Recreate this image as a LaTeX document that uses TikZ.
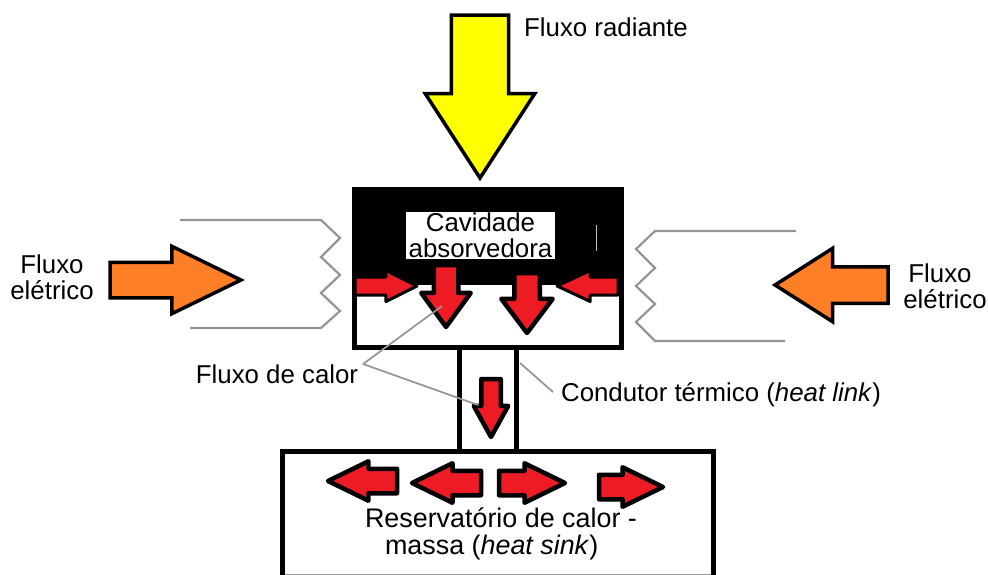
\documentclass[tikz,border=0pt]{standalone}
\usepackage{fontspec}
\setmainfont{Liberation Sans}
\definecolor{rayyellow}{RGB}{255, 255, 0}
\definecolor{elecorange}{RGB}{255, 127, 39}
\definecolor{heatred}{RGB}{237, 28, 36}
\definecolor{leadgray}{RGB}{150, 150, 150}
\usetikzlibrary{shapes.arrows, positioning}

\tikzset{
  bigarrow/.style={single arrow, draw=black, line width=0.07cm, inner xsep=0pt, outer sep=0pt, anchor=tail, single arrow head indent=0pt},
  heatarrow/.style={bigarrow, fill=heatred, line width=0.09cm, line join=round},
  sinkarrow/.style={heatarrow, inner ysep=0.2cm, minimum width=0.7cm, single arrow head extend=0.15cm, single arrow tip angle=52},
  label/.style={font=\fontsize{14.7}{14.7}\selectfont, inner sep=0pt, outer sep=0pt},
  frame/.style={draw=black, line width=0.1cm, inner sep=0pt, outer sep=0pt},
  leader/.style={draw=leadgray, line width=0.035cm},
  contact/.style={draw=leadgray, line width=0.045cm}
}

\begin{document}
\begin{tikzpicture}[x=0.02cm, y=-0.02cm]
  \useasboundingbox (0,0) rectangle (988,575);

  % Radiant flux
  \node[bigarrow, fill=rayyellow, rotate=-90, inner ysep=0.54cm, minimum height=3.26cm, minimum width=2.12cm, single arrow head extend=0.52cm, single arrow tip angle=66] (rayarrow) at (480,15) {};
  \node[label] (raylabel) at (606,27) {Fluxo radiante};

  % Cavity
  \node[fill=black, minimum width=5.44cm, minimum height=1.94cm, inner sep=0pt, outer sep=0pt] (cavityfill) at (488,236.5) {};
  \node[frame, minimum width=5.34cm, minimum height=3.16cm] (cavity) at (488,268.5) {};
  \node[label, fill=white, align=center, minimum width=2.98cm, minimum height=0.94cm] (cavitylabel) at (480.5,235.5) {Cavidade\\absorvedora};
  \draw[white!75!black, line width=0.02cm] (596,225) -- (596,251);

  % Electric contacts
  \draw[contact] (180,220) -- (321,220) -- (340,238) -- (321,257) -- (340,275) -- (321,293) -- (340,311) -- (321,328) -- (190,328);
  \draw[contact] (796,231) -- (655,231) -- (636,249) -- (655,268) -- (636,286) -- (655,304) -- (636,322) -- (655,341) -- (785,341);

  % Electric flux
  \node[bigarrow, fill=elecorange, inner ysep=0.32cm, minimum height=2.62cm, minimum width=1.28cm, single arrow head extend=0.32cm, single arrow tip angle=52] (elecleft) at (110,280) {};
  \node[bigarrow, fill=elecorange, rotate=180, inner ysep=0.33cm, minimum height=2.26cm, minimum width=1.40cm, single arrow head extend=0.37cm, single arrow tip angle=65] (elecright) at (888,285) {};
  \node[label, align=center] (elecleftlabel) at (52,277) {Fluxo\\elétrico};
  \node[label, align=left] (elecrightlabel) at (945,286) {\hspace*{0.1cm}Fluxo\\elétrico};

  % Heat flux in the cavity
  \node[heatarrow, line width=0.06cm, inner ysep=0.15cm, minimum height=1.24cm, minimum width=0.56cm, single arrow head extend=0.13cm, single arrow tip angle=53] (heatleft) at (355,286) {};
  \node[heatarrow, line width=0.06cm, rotate=180, inner ysep=0.15cm, minimum height=1.22cm, minimum width=0.56cm, single arrow head extend=0.13cm, single arrow tip angle=50] (heatright) at (618,286) {};
  \node[heatarrow, rotate=-90, inner ysep=0.2cm, minimum height=1.24cm, minimum width=0.90cm, single arrow head extend=0.25cm, single arrow tip angle=72] (heatdownA) at (446,265) {};
  \node[heatarrow, rotate=-90, inner ysep=0.21cm, minimum height=1.20cm, minimum width=0.94cm, single arrow head extend=0.26cm, single arrow tip angle=74] (heatdownB) at (527,273) {};

  % Thermal link
  \node[frame, minimum width=1.14cm, minimum height=2.10cm] (stem) at (488,399.5) {};
  \node[heatarrow, rotate=-90, inner ysep=0.15cm, minimum height=1.16cm, minimum width=0.60cm, single arrow head extend=0.15cm, single arrow tip angle=58] (heatstem) at (491,379) {};

  % Heat sink
  \draw[leadgray, line width=0.03cm] (282,574.3) -- (713,574.3);
  \draw[line width=0.1cm] (282,575) -- (282,451) -- (713,451) -- (713,575);
  \node[sinkarrow, rotate=180, minimum height=1.38cm] (sinkA) at (397,481) {};
  \node[sinkarrow, rotate=180, minimum height=1.38cm] (sinkB) at (481,483) {};
  \node[sinkarrow, minimum height=1.32cm] (sinkC) at (499,483) {};
  \node[sinkarrow, minimum height=1.28cm] (sinkD) at (599,487) {};
  \node[label, font=\fontsize{15.3}{15}\selectfont, align=left] (sinklabel) at (501,534) {Reservatório de calor -\\\hspace*{0.4cm}massa (\textit{heat sink})};

  % Leaders
  \node[label] (calorlabel) at (277,374) {Fluxo de calor};
  \coordinate (calorjoin) at (363,364);
  \coordinate (calorA) at (442,306);
  \coordinate (calorB) at (478,405);
  \draw[leader] (calorjoin) -- (calorA);
  \draw[leader] (calorjoin) -- (calorB);
  \node[label] (linklabel) at (721,395) {Condutor térmico (\textit{heat link})};
  \coordinate (linkfoot) at (553,392);
  \coordinate (linktop) at (520,363);
  \draw[leader] (linkfoot) -- (linktop);
\end{tikzpicture}
\end{document}
